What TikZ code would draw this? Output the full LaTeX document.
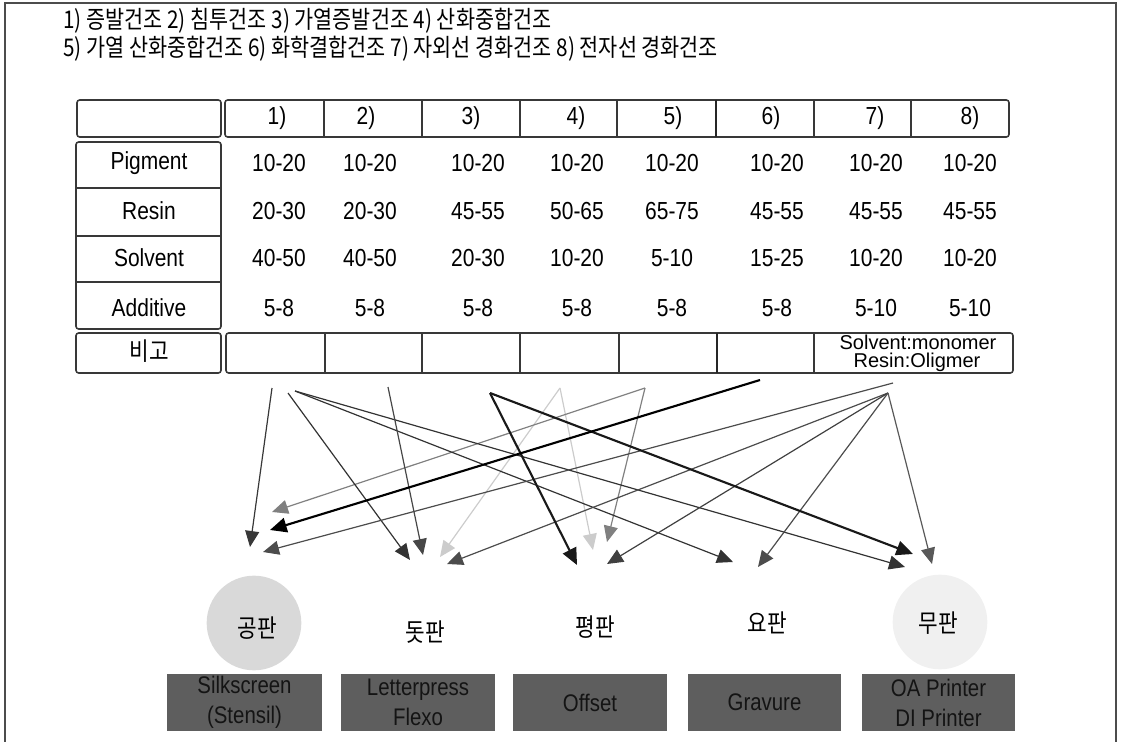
\documentclass[tikz,border=0pt]{standalone}
\usepackage{fontspec}
\setmainfont{Liberation Sans}[FakeStretch=0.85]
\newfontfamily\kr{Noto Sans CJK KR}[FakeStretch=0.85]
\newfontfamily\widesans{Liberation Sans}
\usetikzlibrary{arrows.meta}
\begin{document}
\begin{tikzpicture}[x=0.75pt,y=-0.75pt,
  txt/.style={font=\fontsize{18.5}{18.5}\selectfont, inner sep=0pt, text=black},
  krtxt/.style={font=\kr\fontsize{18.8}{18.8}\selectfont, inner sep=0pt, text=black},
  legtxt/.style={font=\kr\fontsize{18.3}{18.3}\selectfont, inner sep=0pt, text=black, anchor=west},
  cellbox/.style={draw=black!78, line width=1.2pt, rounded corners=2pt},
  divider/.style={draw=black!78, line width=1.2pt},
  thickdiv/.style={draw=black!85, line width=2.1pt},
  printbox/.style={fill=black!63, draw=none, minimum height=42.75pt, inner sep=0pt,
     align=center, text=black!92, font=\fontsize{18}{22.5}\selectfont},
  flow/.style={-{Triangle[length=12pt,width=10.5pt]}, line width=0.9pt},
  heavy/.style={-{Triangle[length=12.5pt,width=11pt]}, line width=1.6pt}
]
\useasboundingbox (0,0) rectangle (1122,742);
% outer frame
\draw[black!70, line width=1.5pt] (5,742) -- (5,3) -- (1116,3) -- (1116,742);

% legend lines
\node[legtxt] (leg1) at (63,21) {1) 증발건조 2) 침투건조 3) 가열증발건조 4) 산화중합건조};
\node[legtxt] (leg2) at (63,49) {5) 가열 산화중합건조 6) 화학결합건조 7) 자외선 경화건조 8) 전자선 경화건조};

% table frames
\draw[cellbox] (77,100) rectangle (221,137);
\draw[cellbox] (225,100) rectangle (1009,137);
\foreach \x in {324,422,520,617,814,911} \draw[divider] (\x,100) -- (\x,137);
\draw[thickdiv] (716,100) -- (716,137);
\draw[cellbox] (76,142) rectangle (221,329);
\foreach \y in {188,236,282} \draw[divider] (76,\y) -- (221,\y);
\draw[cellbox] (76,333) rectangle (221,373);
\draw[cellbox] (226,333) rectangle (1013,373);
\foreach \x in {325,422,520,619,814} \draw[divider] (\x,333) -- (\x,373);
\draw[thickdiv] (717,333) -- (717,373);

% header labels
\foreach \x/\t [count=\i] in {277/1),366/2),471/3),576/4),673/5),771/6),875/7),970/8)}
  \node[txt] (h\i) at (\x,118) {\t};

% row labels
\node[txt] (rp) at (149,163) {Pigment};
\node[txt] (rr) at (149,211) {Resin};
\node[txt] (rs) at (149,258) {Solvent};
\node[txt] (ra) at (149,308) {Additive};
\node[krtxt] (rb) at (149,351) {비고};

% data
\foreach \x/\t [count=\i] in {279/10-20,370/10-20,478/10-20,577/10-20,672/10-20,777/10-20,876/10-20,970/10-20}
  \node[txt] (dp\i) at (\x,163) {\t};
\foreach \x/\t [count=\i] in {279/20-30,370/20-30,478/45-55,577/50-65,672/65-75,777/45-55,876/45-55,970/45-55}
  \node[txt] (dr\i) at (\x,211) {\t};
\foreach \x/\t [count=\i] in {279/40-50,370/40-50,478/20-30,577/10-20,672/5-10,777/15-25,876/10-20,970/10-20}
  \node[txt] (ds\i) at (\x,258) {\t};
\foreach \x/\t [count=\i] in {279/5-8,370/5-8,478/5-8,577/5-8,672/5-8,777/5-8,876/5-10,970/5-10}
  \node[txt] (da\i) at (\x,308) {\t};
\node[inner sep=0pt, font=\widesans\fontsize{15}{15}\selectfont] (note1) at (918,342) {Solvent:monomer};
\node[inner sep=0pt, font=\widesans\fontsize{15}{15}\selectfont] (note2) at (917,362) {Resin:Oligmer};

% circles and plate labels
\node[circle, fill=black!15, minimum size=71pt, inner sep=0pt] (c1) at (254,623) {};
\node[circle, fill=black!6, minimum size=71pt, inner sep=0pt] (c5) at (940,622) {};
\node[krtxt] (p1) at (257,628) {공판};
\node[krtxt] (p2) at (425,632) {돗판};
\node[krtxt] (p3) at (595,627) {평판};
\node[krtxt] (p4) at (767,623) {요판};
\node[krtxt] (p5) at (938,623) {무판};

% printing method boxes
\node[printbox, minimum width=116.25pt] (b1) at (244.5,702.5) {Silkscreen\\(Stensil)};
\node[printbox, minimum width=115.5pt] (b2) at (418,702.5) {Letterpress\\Flexo};
\node[printbox, minimum width=115.5pt] (b3) at (590,702.5) {Offset};
\node[printbox, minimum width=114.75pt] (b4) at (764.5,702.5) {Gravure};
\node[printbox, minimum width=114.75pt] (b5) at (938.5,702.5) {OA Printer\\DI Printer};

% arrow start points
\coordinate (s1a) at (272,388);
\coordinate (s1b) at (288,393);
\coordinate (s1c) at (295,391);
\coordinate (s2) at (388,387);
\coordinate (s3) at (490,393);
\coordinate (s4) at (560,388);
\coordinate (s5) at (645,388);
\coordinate (s6) at (760,380);
\coordinate (s7) at (893,383);
\coordinate (s8) at (888,393);
% arrow tips
\coordinate (t1) at (250,547);
\coordinate (t2) at (272,512);
\coordinate (t3) at (270,530);
\coordinate (t4) at (263,552);
\coordinate (t5) at (410,560);
\coordinate (t6) at (423,555);
\coordinate (t7) at (440,557);
\coordinate (t8) at (447,564);
\coordinate (t9) at (577,565);
\coordinate (t10) at (593,550);
\coordinate (t11) at (607,542);
\coordinate (t12) at (607,564);
\coordinate (t13) at (733,562);
\coordinate (t14) at (758,567);
\coordinate (t15) at (913,554);
\coordinate (t16) at (905,567);
\coordinate (t17) at (932,564);

% arrows
\draw[flow, black!20] (s4) -- (t7);
\draw[flow, black!20] (s4) -- (t10);
\draw[flow, black!50] (s5) -- (t2);
\draw[flow, black!50] (s5) -- (t11);
\draw[flow, black!78] (s1a) -- (t1);
\draw[flow, black!80] (s1b) -- (t5);
\draw[flow, black!80] (s1c) -- (t13);
\draw[flow, black!80] (s1c) -- (t16);
\draw[flow, black!72] (s2) -- (t6);
\draw[flow, black!70] (s7) -- (t4);
\draw[flow, black!70] (s8) -- (t8);
\draw[flow, black!75] (s8) -- (t12);
\draw[flow, black!70] (s8) -- (t14);
\draw[flow, black!65] (s8) -- (t17);
\draw[heavy, black!90] (s3) -- (t9);
\draw[heavy, black!90] (s3) -- (t15);
\draw[heavy, black] (s6) -- (t3);
\end{tikzpicture}
\end{document}
